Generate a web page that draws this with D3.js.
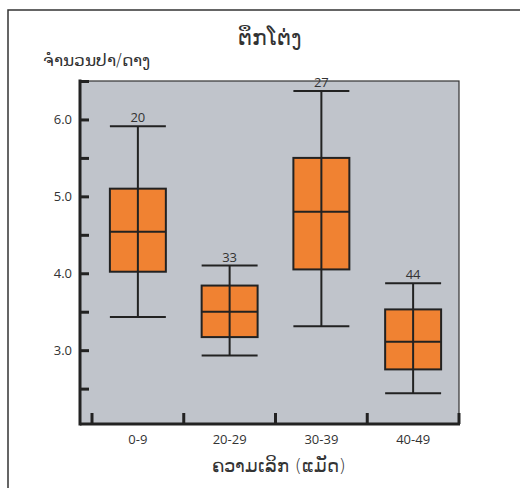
<!DOCTYPE html>
<html>
<head>
<meta charset="utf-8">
<script src="https://cdn.jsdelivr.net/npm/d3@7"></script>
<style>
  body{margin:0;background:#fff}
  text{font-family:"Open Sans","DejaVu Sans",sans-serif;fill:#333}
  .lao{font-family:"DejaVu Sans",sans-serif;font-weight:300}
</style>
</head>
<body>
<svg id="chart"></svg>
<script>
// data
const categories = ['0-9','20-29','30-39','40-49']
const whiskerLow = [3.43, 2.93, 3.31, 2.44]
const q1 = [4.02, 3.17, 4.05, 2.75]
const median = [4.54, 3.50, 4.80, 3.11]
const q3 = [5.10, 3.84, 5.50, 3.53]
const whiskerHigh = [5.91, 4.10, 6.37, 3.87]
const counts = [20, 33, 27, 44]
const yTickLabels = [3.0, 4.0, 5.0, 6.0]
const yMinorTicks = [2.5, 3.5, 4.5, 5.5, 6.5]

const width = 520, height = 488
const svg = d3.select('#chart').attr('width',width).attr('height',height)

// outer frame (top + left visible)
svg.append('rect')
  .attr('x',8).attr('y',10).attr('width',600).attr('height',600)
  .attr('fill','none').attr('stroke','#333').attr('stroke-width',1.5)

const pLeft = 80, pRight = 459, pTop = 81, pBottom = 424

let yScale = d3.scaleLinear().domain([2.04,6.5]).range([pBottom,pTop])
let xScale = d3.scaleBand().domain(categories).range([92,459])

// plot background
svg.append('rect')
  .attr('x',pLeft).attr('y',pTop)
  .attr('width',pRight-pLeft).attr('height',pBottom-pTop)
  .attr('fill','#c0c4cb').attr('stroke','#333').attr('stroke-width',1.2)

// y axis
let yAxis = d3.axisRight(yScale).tickValues(yTickLabels.concat(yMinorTicks)).tickSize(9).tickFormat('')
let yAxisG = svg.append('g').attr('transform',`translate(${pLeft},0)`).call(yAxis)
yAxisG.select('.domain').remove()
yAxisG.selectAll('.tick line').attr('stroke','#222').attr('stroke-width',3)
svg.append('line')
  .attr('x1',pLeft).attr('x2',pLeft).attr('y1',pTop-1.5).attr('y2',pBottom+1.5)
  .attr('stroke','#222').attr('stroke-width',3)

svg.selectAll('.ylab').data(yTickLabels).enter().append('text')
  .attr('class','ylab')
  .attr('x',72).attr('y',d=>yScale(d))
  .attr('dy','0.35em').attr('text-anchor','end')
  .attr('font-size',13)
  .text(d=>d.toFixed(1))

// x axis
let xTicks = categories.map(c=>xScale(c)).concat([xScale.range()[1]])
svg.append('line')
  .attr('x1',pLeft).attr('x2',pRight+1).attr('y1',pBottom).attr('y2',pBottom)
  .attr('stroke','#222').attr('stroke-width',3)
svg.selectAll('.xtick').data(xTicks).enter().append('line')
  .attr('class','xtick')
  .attr('x1',d=>d).attr('x2',d=>d).attr('y1',pBottom).attr('y2',pBottom-11)
  .attr('stroke','#222').attr('stroke-width',3)

svg.selectAll('.xlab').data(categories).enter().append('text')
  .attr('class','xlab')
  .attr('x',d=>xScale(d)+xScale.bandwidth()/2)
  .attr('y',439).attr('dy','0.35em').attr('text-anchor','middle')
  .attr('font-size',13)
  .text(d=>d)

// boxes
const boxW = xScale.bandwidth()*0.61
const cx = d=>xScale(d)+xScale.bandwidth()/2
const g = svg.selectAll('.box').data(categories).enter().append('g').attr('class','box')

g.append('line')
  .attr('x1',cx).attr('x2',cx)
  .attr('y1',(d,i)=>yScale(whiskerHigh[i])).attr('y2',(d,i)=>yScale(whiskerLow[i]))
  .attr('stroke','#222').attr('stroke-width',2)
g.append('rect')
  .attr('x',d=>cx(d)-boxW/2).attr('width',boxW)
  .attr('y',(d,i)=>yScale(q3[i]))
  .attr('height',(d,i)=>yScale(q1[i])-yScale(q3[i]))
  .attr('fill','#f08232').attr('stroke','#222').attr('stroke-width',2)
g.append('line')
  .attr('x1',cx).attr('x2',cx)
  .attr('y1',(d,i)=>yScale(q3[i])).attr('y2',(d,i)=>yScale(q1[i]))
  .attr('stroke','#222').attr('stroke-width',2)
g.append('line')
  .attr('x1',d=>cx(d)-boxW/2).attr('x2',d=>cx(d)+boxW/2)
  .attr('y1',(d,i)=>yScale(median[i])).attr('y2',(d,i)=>yScale(median[i]))
  .attr('stroke','#222').attr('stroke-width',2)
;[whiskerHigh,whiskerLow].forEach(arr=>{
  g.append('line')
    .attr('x1',d=>cx(d)-boxW/2).attr('x2',d=>cx(d)+boxW/2)
    .attr('y1',(d,i)=>yScale(arr[i])).attr('y2',(d,i)=>yScale(arr[i]))
    .attr('stroke','#222').attr('stroke-width',2)
})
g.append('text')
  .attr('x',cx).attr('y',(d,i)=>yScale(whiskerHigh[i])-4)
  .attr('text-anchor','middle').attr('font-size',13)
  .text((d,i)=>counts[i])

// titles
svg.append('text').attr('class','lao').attr('x',270).attr('y',45).attr('text-anchor','middle')
  .attr('font-size',22).text('ຕຶກໂຕ່ງ')
svg.append('text').attr('class','lao').attr('x',43).attr('y',66)
  .attr('font-size',17).text('ຈຳນວນປາ/ດາງ')
svg.append('text').attr('class','lao').attr('x',279).attr('y',472).attr('text-anchor','middle')
  .attr('font-size',18).text('ຄວາມເລິກ (ແມັດ)')
</script>
</body>
</html>
